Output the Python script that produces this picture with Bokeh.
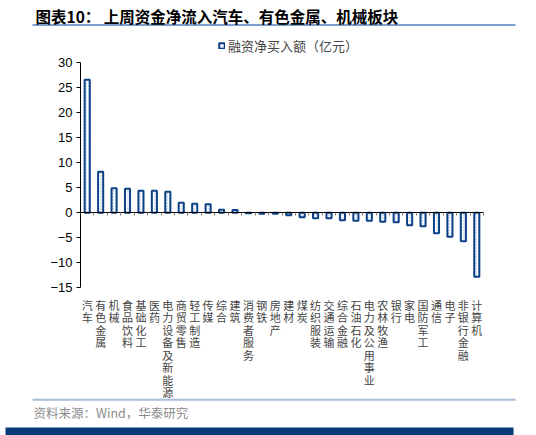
from bokeh.plotting import figure
from bokeh.models import (Range1d, LinearAxis, FixedTicker, Label, Legend, LegendItem,
                          ColumnDataSource)
from bokeh.embed import file_html
from bokeh.resources import INLINE

# 行业与融资净买入额（亿元）
industries = ["汽车", "有色金属", "机械", "食品饮料", "基础化工", "医药", "电力设备及新能源",
              "商贸零售", "轻工制造", "传媒", "综合", "建筑", "消费者服务", "钢铁", "房地产",
              "建材", "煤炭", "纺织服装", "交通运输", "综合金融", "石油石化", "电力及公用事业",
              "农林牧渔", "银行", "家电", "国防军工", "通信", "电子", "非银行金融", "计算机"]
net_buy = [26.6, 8.2, 4.9, 4.8, 4.4, 4.4, 4.2, 2.0, 1.8, 1.7, 0.6, 0.55, -0.1, -0.2, -0.2,
           -0.5, -0.9, -1.1, -1.1, -1.5, -1.6, -1.6, -1.8, -1.9, -2.5, -2.7, -4.1, -4.8, -5.7, -12.8]
y_ticks = [-15, -10, -5, 0, 5, 10, 15, 20, 25, 30]
y_lo, y_hi = -15, 30

CJK = "Noto Sans CJK SC"
NAVY = "#0c4185"
W, H = 536, 435
# where the bar area sits on the canvas (pixels)
L, R, T, B = 80, 483, 62.3, 287.3

n = len(industries)
kx = (R - L) / n
ky = (B - T) / (y_hi - y_lo)


def px(v):   # canvas x pixel -> data x
    return (v - L) / kx


def py(v):   # canvas y pixel (from top) -> data y
    return y_hi - (v - T) / ky


xs = [i + 0.5 for i in range(n)]
src = ColumnDataSource(data=dict(x=xs, top=net_buy, name=industries))

p = figure(width=W, height=H, output_backend="svg", toolbar_location=None,
           x_range=Range1d(px(0), px(W)), y_range=Range1d(py(H), py(0)),
           x_axis_location=None, y_axis_location=None, min_border=0)
p.outline_line_color = None
p.xgrid.visible = False
p.ygrid.visible = False
p.background_fill_color = "white"
p.border_fill_color = "white"

bars = p.vbar(x="x", top="top", bottom=0, width=0.38, source=src,
              fill_color="white", line_color=NAVY, line_width=2,
              hatch_pattern="dot", hatch_color="#8fb0dd", hatch_scale=3, hatch_weight=1)

# y axis
yax = LinearAxis(ticker=FixedTicker(ticks=y_ticks), fixed_location=0, bounds=(y_lo, y_hi))
yax.major_tick_in = 0
yax.major_tick_out = 4
yax.minor_tick_line_color = None
yax.axis_line_color = "black"
yax.major_tick_line_color = "black"
yax.major_label_text_font = "Liberation Sans"
yax.major_label_text_font_size = "13px"
yax.major_label_text_color = "black"
yax.major_label_standoff = 4
p.add_layout(yax, "left")

# zero line with ticks between categories
zax = LinearAxis(ticker=FixedTicker(ticks=list(range(n + 1))), fixed_location=0, bounds=(0, n))
zax.major_label_overrides = {i: "" for i in range(n + 1)}
zax.major_label_standoff = 0
zax.major_tick_in = 0
zax.major_tick_out = 3
zax.minor_tick_line_color = None
zax.axis_line_color = "black"
zax.major_tick_line_color = "#808080"
p.add_layout(zax, "below")

# category labels, one character per line, under the plot area
lax = LinearAxis(ticker=FixedTicker(ticks=xs), fixed_location=y_lo, bounds=(0, n))
lax.major_label_overrides = {x: "\n".join(name) for x, name in zip(xs, industries)}
lax.axis_line_color = None
lax.major_tick_line_color = None
lax.minor_tick_line_color = None
lax.major_label_text_font = CJK
lax.major_label_text_font_size = "11px"
lax.major_label_text_line_height = 0.78
lax.major_label_standoff = 3
p.add_layout(lax, "below")

legend = Legend(items=[LegendItem(label="融资净买入额（亿元）", renderers=[bars])],
                location=(218, H - 55), orientation="horizontal",
                label_text_font=CJK, label_text_font_size="13px",
                glyph_width=7, glyph_height=7, label_standoff=3,
                padding=0, margin=0, border_line_color=None, background_fill_alpha=0)
p.add_layout(legend, "center")

# header: title + blue rule
p.add_layout(Label(x=px(35), y=py(15), text="图表10：  上周资金净流入汽车、有色金属、机械板块",
                   text_font=CJK, text_font_size="15.5px", text_font_style="bold",
                   text_baseline="middle", text_color="black"))
p.segment(x0=[px(32)], y0=[py(24.5)], x1=[px(515)], y1=[py(24.5)],
          line_width=1.5, line_color="#4f7fbf")

# footer: rule, source, navy band
p.segment(x0=[px(32)], y0=[py(399.3)], x1=[px(515)], y1=[py(399.3)],
          line_width=2, line_color="#a9bdd9")
p.add_layout(Label(x=px(33), y=py(411.5), text="资料来源：Wind，华泰研究", text_font=CJK,
                   text_font_size="12.5px", text_baseline="middle", text_color="#8c8c8c"))
p.quad(left=[px(5)], right=[px(513)], top=[py(427)], bottom=[py(435)],
       fill_color="#0a3b78", line_color=None)

open("out.html", "w").write(file_html(p, INLINE))
